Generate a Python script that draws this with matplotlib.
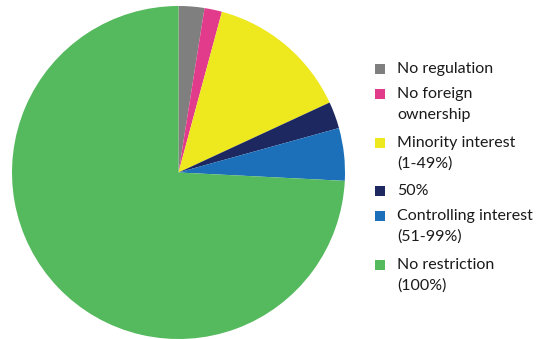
import matplotlib
matplotlib.use("Agg")
import matplotlib.pyplot as plt
from matplotlib.patches import Rectangle

# Share of each foreign-ownership regime (%)
categories = ["No regulation", "No foreign\nownership", "Minority interest\n(1-49%)",
              "50%", "Controlling interest\n(51-99%)", "No restriction\n(100%)"]
shares = [2.5, 1.7, 13.9, 2.6, 5.1, 74.2]
colors = ["#7f7f7f", "#e23b8b", "#eee81f", "#1d2860", "#1b70b9", "#55b95d"]

W, H = 551, 339
plt.rcParams["font.family"] = ["Lato", "DejaVu Sans"]
fig = plt.figure(figsize=(W / 100, H / 100), dpi=100)

# Pie area: centre (178, 172) px, radius ~166 px
cx, cy, r = 178.5, 172.5, 166.5
ax = fig.add_axes([(cx - r) / W, (H - cy - r) / H, 2 * r / W, 2 * r / H])
ax.pie(shares, colors=colors, startangle=90, counterclock=False,
       radius=1, wedgeprops=dict(linewidth=0))
ax.set_xlim(-1, 1)
ax.set_ylim(-1, 1)
ax.set_aspect("auto")
ax.axis("off")

# Legend drawn on the figure, one text per line
first_line_y = [69, 94, 143, 191, 216, 265]
line_step = 21
sq = 10
for label, col, y in zip(categories, colors, first_line_y):
    fig.patches.append(Rectangle((375 / W, (H - y - sq / 2) / H), sq / W, sq / H,
                                 transform=fig.transFigure, facecolor=col,
                                 edgecolor="none"))
    for i, line in enumerate(label.split("\n")):
        fig.text(397 / W, (H - y - i * line_step) / H, line, fontsize=11.5,
                 color="#1a1a1a", va="center", ha="left")

fig.savefig("out.png", dpi=100)
